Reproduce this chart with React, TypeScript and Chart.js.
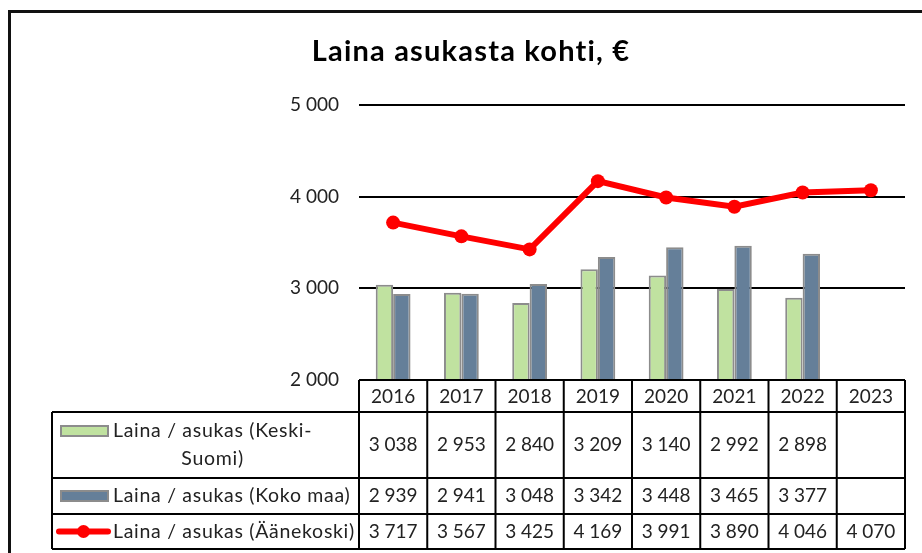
import React, { useEffect, useRef } from "react";
import { Chart, registerables } from "chart.js";

Chart.register(...registerables);

const title = "Laina asukasta kohti, €";
const years = ["2016", "2017", "2018", "2019", "2020", "2021", "2022", "2023"];
const keskiSuomi = [3038, 2953, 2840, 3209, 3140, 2992, 2898, null];
const kokoMaa = [2939, 2941, 3048, 3342, 3448, 3465, 3377, null];
const aanekoski = [3717, 3567, 3425, 4169, 3991, 3890, 4046, 4070];
const labelKeski = ["Laina / asukas (Keski-", "Suomi)"];
const labelKoko = "Laina / asukas (Koko maa)";
const labelAane = "Laina / asukas (Äänekoski)";
const yTicks = [2000, 3000, 4000, 5000];

const GREEN = "#C0E2A0";
const BLUE = "#657F99";
const BAR_BORDER = "#8C8C8C";
const RED = "#FF0000";
const FONT = 'Lato, "Open Sans", sans-serif';

const fmt = (v: number | null) =>
  v == null ? "" : String(v).replace(/\B(?=(\d{3})+(?!\d))/g, " ");

const tablePlugin = {
  id: "tablePlugin",
  afterDraw(chart: any) {
    const ctx = chart.ctx as CanvasRenderingContext2D;
    const area = chart.chartArea;
    const n = years.length;
    const colW = (area.right - area.left) / n;
    const left = area.left;
    const right = area.right;
    const headTop = area.bottom;
    const headBot = headTop + 32;
    const r1Bot = headBot + 66;
    const r2Bot = r1Bot + 36;
    const r3Bot = r2Bot + 35;
    const legLeft = 52;

    ctx.save();
    // outer frame
    ctx.strokeStyle = "#111";
    ctx.lineWidth = 3;
    ctx.strokeRect(9.5, 11.5, chart.width + 20, chart.height + 20);

    // title
    ctx.fillStyle = "#000";
    ctx.font = `bold 29px ${FONT}`;
    (ctx as any).letterSpacing = "1.2px";
    ctx.textAlign = "center";
    ctx.textBaseline = "middle";
    ctx.fillText(title, 471, 52);
    (ctx as any).letterSpacing = "0px";

    // table lines
    ctx.strokeStyle = "#000";
    ctx.lineWidth = 2;
    ctx.beginPath();
    ctx.moveTo(left, headTop);
    ctx.lineTo(right, headTop);
    ctx.moveTo(legLeft, headBot);
    ctx.lineTo(right, headBot);
    ctx.moveTo(legLeft, r1Bot);
    ctx.lineTo(right, r1Bot);
    ctx.moveTo(legLeft, r2Bot);
    ctx.lineTo(right, r2Bot);
    ctx.moveTo(legLeft, r3Bot);
    ctx.lineTo(right, r3Bot);
    ctx.moveTo(legLeft, headBot);
    ctx.lineTo(legLeft, r3Bot);
    for (let i = 0; i <= n; i++) {
      const x = left + i * colW;
      ctx.moveTo(x, headTop);
      ctx.lineTo(x, r3Bot);
    }
    ctx.stroke();

    // text
    ctx.fillStyle = "#222";
    ctx.font = `19px ${FONT}`;
    ctx.textAlign = "center";
    ctx.textBaseline = "middle";
    const xs = chart.scales.x;
    const y1 = (headBot + r1Bot) / 2;
    const y2 = (r1Bot + r2Bot) / 2;
    const y3 = (r2Bot + r3Bot) / 2;
    years.forEach((yr, i) => {
      const cx = xs.getPixelForValue(i);
      ctx.fillText(yr, cx, (headTop + headBot) / 2 + 1);
      ctx.fillText(fmt(keskiSuomi[i]), cx, y1);
      ctx.fillText(fmt(kokoMaa[i]), cx, y2);
      ctx.fillText(fmt(aanekoski[i]), cx, y3);
    });

    // legend keys
    ctx.lineWidth = 2;
    ctx.fillStyle = GREEN;
    ctx.strokeStyle = BAR_BORDER;
    ctx.fillRect(61, y1 - 19, 47, 10);
    ctx.strokeRect(61, y1 - 19, 47, 10);
    ctx.fillStyle = BLUE;
    ctx.fillRect(61, y2 - 5, 47, 10);
    ctx.strokeRect(61, y2 - 5, 47, 10);
    ctx.strokeStyle = RED;
    ctx.lineWidth = 6;
    ctx.lineCap = "round";
    ctx.beginPath();
    ctx.moveTo(59, y3);
    ctx.lineTo(108, y3);
    ctx.stroke();
    ctx.fillStyle = RED;
    ctx.beginPath();
    ctx.arc(83.5, y3, 6.5, 0, Math.PI * 2);
    ctx.fill();

    // legend labels
    ctx.fillStyle = "#222";
    ctx.font = `19.5px ${FONT}`;
    (ctx as any).letterSpacing = "0.7px";
    ctx.textAlign = "left";
    const tx = 113;
    const w1 = ctx.measureText(labelKeski[0]).width;
    ctx.fillText(labelKeski[0], tx, y1 - 14);
    ctx.textAlign = "center";
    ctx.fillText(labelKeski[1], tx + w1 / 2, y1 + 14);
    ctx.textAlign = "left";
    ctx.fillText(labelKoko, tx, y2);
    ctx.fillText(labelAane, tx, y3);
    (ctx as any).letterSpacing = "0px";
    ctx.restore();
  },
};

export default function App() {
  const ref = useRef<HTMLCanvasElement | null>(null);
  useEffect(() => {
    let chart: Chart | null = null;
    let cancelled = false;
    const make = () => {
      if (cancelled || !ref.current) return;
      chart = new Chart(ref.current, {
        type: "bar",
        data: {
          labels: years,
          datasets: [
            {
              type: "line",
              label: labelAane,
              data: aanekoski,
              borderColor: RED,
              backgroundColor: RED,
              borderWidth: 6,
              pointRadius: 7,
              pointBackgroundColor: RED,
              pointBorderWidth: 0,
              tension: 0,
              order: 0,
            } as any,
            {
              type: "bar",
              label: labelKeski.join(""),
              data: keskiSuomi,
              backgroundColor: GREEN,
              borderColor: BAR_BORDER,
              borderWidth: 2,
              categoryPercentage: 0.51,
              barPercentage: 1,
              order: 1,
            } as any,
            {
              type: "bar",
              label: labelKoko,
              data: kokoMaa,
              backgroundColor: BLUE,
              borderColor: BAR_BORDER,
              borderWidth: 2,
              categoryPercentage: 0.51,
              barPercentage: 1,
              order: 1,
            } as any,
          ],
        },
        options: {
          responsive: false,
          animation: false,
          layout: { padding: { left: 0, right: 17, top: 105, bottom: 173 } },
          plugins: {
            legend: { display: false },
            title: { display: false },
            tooltip: { enabled: false },
          },
          scales: {
            x: { display: false, offset: true },
            y: {
              min: yTicks[0],
              max: yTicks[yTicks.length - 1],
              afterFit: (scale: any) => {
                scale.width = 359;
              },
              afterBuildTicks: (scale: any) => {
                scale.ticks = yTicks.map((v) => ({ value: v }));
              },
              ticks: {
                padding: 20,
                color: "#222",
                font: { family: FONT, size: 19 },
                callback: (v: any) => fmt(Number(v)),
              },
              grid: { color: "#000", lineWidth: 2, drawTicks: false },
              border: { display: false },
            },
          },
        },
        plugins: [tablePlugin],
      });
    };
    const fonts = (document as any).fonts;
    if (fonts && fonts.load) {
      Promise.all([fonts.load(`19px Lato`), fonts.load(`bold 29px Lato`)])
        .catch(() => null)
        .then(make);
    } else make();
    return () => {
      cancelled = true;
      if (chart) chart.destroy();
    };
  }, []);
  return (
    <div style={{ position: "fixed", left: 0, top: 0, width: 922, height: 553, background: "#fff" }}>
      <canvas ref={ref} width={922} height={553} style={{ display: "block" }} />
    </div>
  );
}
